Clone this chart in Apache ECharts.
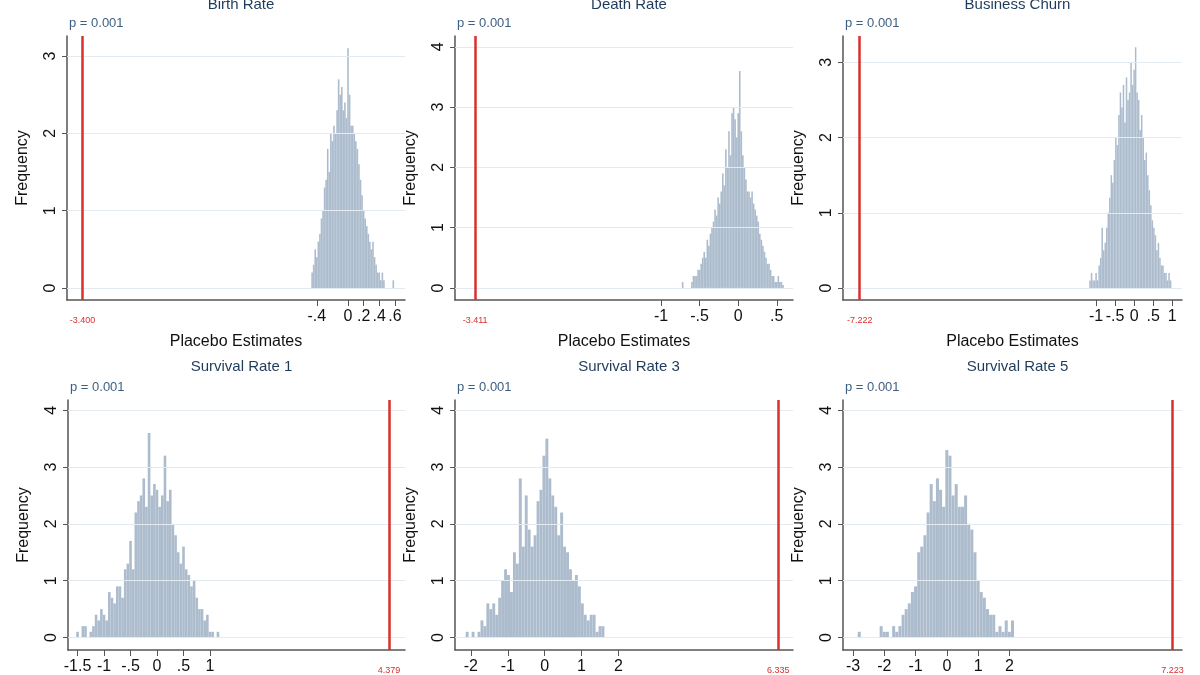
<!DOCTYPE html>
<html>
<head>
<meta charset="utf-8">
<script src="https://cdn.jsdelivr.net/npm/echarts@6/dist/echarts.min.js"></script>
<style>body{margin:0;background:#fff}#main{width:1200px;height:675px}</style>
</head>
<body>
<div id="main"></div>
<script>
var chart = echarts.init(document.getElementById('main'));

// 各面板：直方图（起点、组距、密度）+ 真实估计值
var panels = [
  { title: 'Birth Rate', real: -3.4, realText: '-3.400', start: -0.46, step: 0.02, bw: 1.6,
    x: [-3.6, 0.73], y: [-0.155, 3.26], yTicks: [0, 1, 2, 3], xTicks: [-0.4, -0.2, 0, 0.2, 0.4, 0.6],
    box: [67, 36, 405, 300],
    dens: [0.2,0.3,0.5,0.4,0.6,0.7,0.9,1.0,1.3,1.4,1.8,1.5,2.0,1.9,2.1,2.0,2.3,2.7,2.5,2.6,
           2.3,2.4,2.2,3.1,2.5,2.1,2.1,2.0,1.9,1.8,1.6,1.4,1.2,1.0,0.9,0.8,0.7,0.6,0.5,0.6,
           0.4,0.3,0.2,0.2,0.1,0.2,0.1,0,0,0,0,0,0.1] },
  { title: 'Death Rate', real: -3.411, realText: '-3.411', start: -0.72, step: 0.02, bw: 1.6,
    x: [-3.67, 0.71], y: [-0.2, 4.18], yTicks: [0, 1, 2, 3, 4], xTicks: [-1, -0.5, 0, 0.5],
    box: [455, 36, 793, 300],
    dens: [0.1,0,0,0,0,0,0.1,0.2,0.2,0.2,0.3,0.3,0.4,0.5,0.6,0.5,0.8,0.7,0.9,1.0,
           1.1,1.3,1.2,1.5,1.4,1.6,1.9,1.7,2.3,2.0,2.6,2.2,2.9,3.0,2.8,2.5,2.9,3.6,2.6,2.2,
           2.0,1.8,1.6,1.6,1.5,1.6,1.4,1.3,1.2,1.1,0.9,0.8,0.7,0.6,0.5,0.4,0.4,0.3,0.2,0.2,
           0.1,0.1,0.2,0.1,0.1,0.05] },
  { title: 'Business Churn', real: -7.222, realText: '-7.222', start: -1.16, step: 0.04, bw: 1.5,
    x: [-7.66, 1.26], y: [-0.16, 3.35], yTicks: [0, 1, 2, 3], xTicks: [-1, -0.5, 0, 0.5, 1],
    box: [843, 36, 1182, 300],
    dens: [0.1,0.2,0.1,0.1,0.2,0.1,0.3,0.4,0.8,0.5,0.6,0.8,1.0,1.2,1.5,1.4,1.7,2.0,1.9,2.3,
           2.6,2.4,2.7,2.2,2.8,2.5,2.6,3.0,2.7,2.9,3.2,2.6,2.5,2.1,2.3,2.0,1.7,1.8,1.5,1.3,
           1.1,0.9,0.8,0.7,0.5,0.6,0.4,0.3,0.3,0.2,0.2,0.1,0.2,0.1] },
  { title: 'Survival Rate 1', real: 4.379, realText: '4.379', start: -1.5, step: 0.05, bw: 2.6,
    x: [-1.68, 4.68], y: [-0.22, 4.18], yTicks: [0, 1, 2, 3, 4], xTicks: [-1.5, -1, -0.5, 0, 0.5, 1],
    box: [68, 400, 405, 663],
    dens: [0.1,0,0.2,0.2,0,0.1,0.2,0.4,0.3,0.5,0.4,0.3,0.8,0.7,0.6,0.9,0.9,0.7,1.2,1.3,
           1.7,1.2,2.2,2.4,2.5,2.8,2.3,3.6,2.5,2.7,2.6,2.3,2.5,3.2,2.4,2.6,2.0,1.8,1.5,1.3,
           1.6,1.2,1.1,0.9,1.0,0.7,0.5,0.5,0.3,0.4,0.1,0.1,0,0.1] },
  { title: 'Survival Rate 3', real: 6.335, realText: '6.335', start: -2.1, step: 0.08, bw: 2.9,
    x: [-2.43, 6.73], y: [-0.22, 4.18], yTicks: [0, 1, 2, 3, 4], xTicks: [-2, -1, 0, 1, 2],
    box: [455, 400, 793, 663],
    dens: [0.1,0,0.1,0,0.1,0.3,0.2,0.6,0.5,0.6,0.4,0.7,1.0,1.2,1.1,0.8,1.5,1.3,2.8,1.6,
           2.5,1.9,1.6,1.8,2.4,2.6,3.2,3.5,2.8,2.5,2.3,1.8,2.2,1.6,1.5,1.2,1.0,1.1,0.9,0.6,
           0.4,0.3,0.4,0.4,0.1,0.2,0.2] },
  { title: 'Survival Rate 5', real: 7.223, realText: '7.223', start: -2.8, step: 0.1, bw: 3.0,
    x: [-3.32, 7.52], y: [-0.22, 4.18], yTicks: [0, 1, 2, 3, 4], xTicks: [-3, -2, -1, 0, 1, 2],
    box: [843, 400, 1182, 663],
    dens: [0.1,0,0,0,0,0,0,0.2,0.1,0.1,0,0.2,0.1,0.2,0.4,0.5,0.6,0.8,0.9,1.5,
           1.6,1.8,2.2,2.7,2.4,2.8,2.6,2.3,3.3,3.2,2.5,2.7,2.3,2.3,2.5,2.0,1.9,1.5,1.0,0.8,
           0.7,0.5,0.4,0.4,0.1,0.2,0.1,0.3,0.1,0.3] }
];

function fmt(v) {
  if (v === 0) return '0';
  return String(v).replace('0.', '.');
}

var option = { animation: false, title: [], grid: [], xAxis: [], yAxis: [], series: [], graphic: [] };

panels.forEach(function (p, i) {
  var b = p.box;
  option.grid.push({ left: b[0], top: b[1], width: b[2] - b[0], height: b[3] - b[1] });
  option.title.push({
    text: p.title, left: (b[0] + b[2]) / 2, top: i < 3 ? -8 : 354, textAlign: 'center',
    textStyle: { color: '#1f3b5c', fontSize: 15, fontWeight: 'normal', fontFamily: 'Liberation Sans' }
  });
  option.graphic.push({
    type: 'text', left: b[0] + 2, top: b[1] - 19,
    style: { text: 'p = 0.001', fill: '#3d5f82', fontSize: 13, fontFamily: 'Liberation Sans' }
  });
  option.xAxis.push({
    type: 'value', gridIndex: i, min: p.x[0], max: p.x[1],
    name: i < 3 ? 'Placebo Estimates' : '', nameLocation: 'middle', nameGap: 34,
    nameTextStyle: { color: '#111', fontSize: 16, fontFamily: 'Liberation Sans' },
    axisLine: { onZero: false, lineStyle: { color: '#555', width: 1.5 } },
    axisTick: { show: true, length: 6, customValues: p.xTicks, lineStyle: { color: '#555' } },
    axisLabel: { customValues: p.xTicks, formatter: fmt, color: '#111', fontSize: 16, margin: 9,
      hideOverlap: false, showMinLabel: true, showMaxLabel: true, fontFamily: 'Liberation Sans' },
    splitLine: { show: false }
  });
  option.yAxis.push({
    type: 'value', gridIndex: i, min: p.y[0], max: p.y[1],
    name: 'Frequency', nameLocation: 'middle', nameGap: 36,
    nameTextStyle: { color: '#111', fontSize: 16, fontFamily: 'Liberation Sans' },
    axisLine: { show: true, onZero: false, lineStyle: { color: '#555', width: 1.5 } },
    axisTick: { show: true, length: 5, customValues: p.yTicks, lineStyle: { color: '#555' } },
    axisLabel: { customValues: p.yTicks, rotate: 90, color: '#111', fontSize: 16, margin: 8, fontFamily: 'Liberation Sans' },
    splitLine: { show: false }
  });
  var data = p.dens.map(function (d, k) {
    return [+(p.start + k * p.step).toFixed(3), d];
  });
  // 背景网格线（放在柱子后面）
  option.series.push({
    type: 'line', xAxisIndex: i, yAxisIndex: i, data: [], z: 1,
    markLine: {
      silent: true, symbol: 'none', animation: false,
      data: p.yTicks.map(function (t) {
        return { yAxis: t, lineStyle: { color: '#e3ebf1', width: 1, type: 'solid' }, label: { show: false } };
      })
    }
  });
  option.series.push({
    type: 'bar', xAxisIndex: i, yAxisIndex: i, data: data, barWidth: p.bw, z: 3,
    itemStyle: { color: '#a3b5c8', opacity: 0.9 },
    markLine: {
      silent: true, symbol: 'none', animation: false,
      data: [{
        xAxis: p.real, lineStyle: { color: '#d9302c', width: 2.5, type: 'solid' },
        label: { show: true, position: 'start', distance: 16, formatter: p.realText, color: '#d9302c', fontSize: 9 }
      }]
    }
  });
});

chart.setOption(option);
</script>
</body>
</html>
